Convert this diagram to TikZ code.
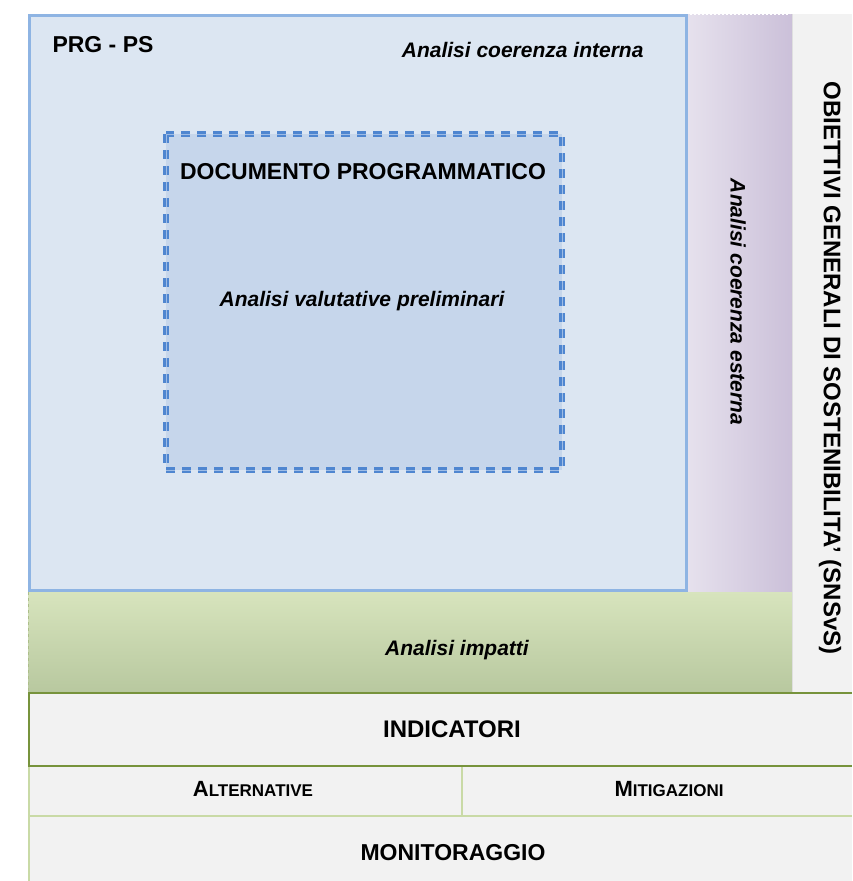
\documentclass[tikz,border=0pt]{standalone}
\usepackage{fontspec}
\setmainfont{Liberation Sans}
\definecolor{prgfill}{HTML}{DCE6F2}
\definecolor{prgline}{HTML}{8EB4E3}
\definecolor{docfill}{HTML}{C6D6EB}
\definecolor{docline}{HTML}{4F86D0}
\definecolor{esttop}{HTML}{E6E1ED}
\definecolor{estbot}{HTML}{CBC0D9}
\definecolor{imptop}{HTML}{D7E4BD}
\definecolor{impbot}{HTML}{B8C89F}
\definecolor{greyfill}{HTML}{F2F2F2}
\definecolor{indline}{HTML}{77933C}
\definecolor{rowline}{HTML}{C9DAA6}
\newcommand\capsc[2]{{\fontsize{22}{24}\selectfont #1}{\fontsize{17}{20}\selectfont #2}}
\begin{document}
\begin{tikzpicture}[x=1pt,y=-1pt,
  bold/.style={font=\bfseries\fontsize{23}{26}\selectfont},
  boldit/.style={font=\bfseries\itshape\fontsize{21}{24}\selectfont},
  band/.style={fill=greyfill}]
\useasboundingbox[fill=white] (0,0) rectangle (852,881);
\fill[prgfill] (28,14) rectangle (688,592);
\shade[left color=esttop,right color=estbot] (688,14) rectangle (792,592);
\draw[white,line width=2pt,dotted] (690,14)--(790,14);
\shade[top color=imptop,bottom color=impbot] (28,592) rectangle (792,692);
\draw[indline!60,dashed] (28,592)--(28,692);
\fill[greyfill] (792,14) rectangle (852,692);
\draw[gray!25] (792,14)--(792,692);
\draw[prgline,line width=3pt] (29.5,15.5) rectangle (686.5,590.5);
\fill[docfill] (166,134) rectangle (562,470);
\draw[docline,line width=2.5pt,double=docline!55,double distance=0.8pt,dash pattern=on 9pt off 7pt] (166,134) rectangle (562,470);
\fill[band] (28,692) rectangle (852,881);
\draw[rowline,line width=1.5pt] (29,766)--(852,766) (29,816)--(852,816) (462,766)--(462,816) (29,766)--(29,881);
\draw[indline,line width=2.5pt] (852,693)--(29,693)--(29,766)--(852,766);
\node[bold,anchor=west] (prg) at (49,45) {PRG - PS};
\node[boldit,anchor=east] (cint) at (647,50) {Analisi coerenza interna};
\node[bold] (doc) at (363,172) {DOCUMENTO PROGRAMMATICO};
\node[boldit] (prel) at (362,301) {Analisi valutative preliminari};
\node[boldit,rotate=-90] (cest) at (738,302) {Analisi coerenza esterna};
\node[bold,font=\bfseries\fontsize{24}{27}\selectfont,rotate=-90] (obj) at (830,368) {OBIETTIVI GENERALI DI SOSTENIBILITA' (SNSvS)};
\node[boldit] (imp) at (457,650) {Analisi impatti};
\node[bold,font=\bfseries\fontsize{24}{27}\selectfont] (ind) at (452,729) {INDICATORI};
\node[font=\bfseries] (alt) at (253,789) {\capsc{A}{LTERNATIVE}};
\node[font=\bfseries] (mit) at (669,789) {\capsc{M}{ITIGAZIONI}};
\node[bold] (mon) at (453,853) {MONITORAGGIO};
\end{tikzpicture}
\end{document}
